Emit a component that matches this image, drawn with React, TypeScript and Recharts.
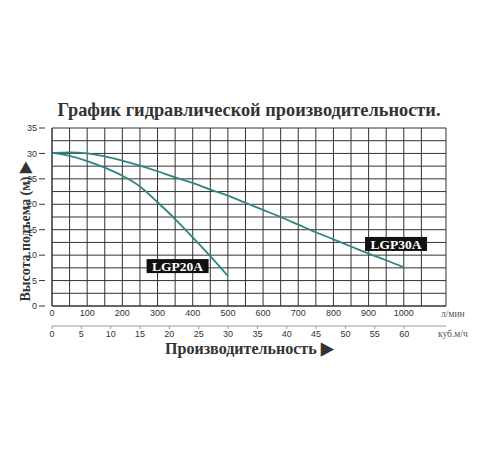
import React from "react";
import {
  LineChart,
  Line,
  XAxis,
  YAxis,
  CartesianGrid,
  ReferenceDot,
} from "recharts";

// LGP20A pump curve (flow in l/min, head in m)
const flow20 = [0, 50, 100, 150, 200, 250, 300, 350, 400, 450, 500];
const head20 = [30.1, 29.5, 28.5, 27.2, 25.6, 23.5, 20.4, 17.1, 13.5, 9.8, 5.9];

// LGP30A pump curve
const flow30 = [
  0, 50, 100, 150, 200, 250, 300, 350, 400, 450, 500, 550, 600, 650, 700, 750,
  800, 850, 900, 950, 1000,
];
const head30 = [
  30.1, 30.2, 30.0, 29.4, 28.6, 27.6, 26.5, 25.3, 24.2, 22.9, 21.7, 20.3, 18.9,
  17.5, 16.0, 14.5, 13.1, 11.7, 10.3, 9.0, 7.6,
];

const flowTicks = [
  0, 50, 100, 150, 200, 250, 300, 350, 400, 450, 500, 550, 600, 650, 700, 750,
  800, 850, 900, 950, 1000, 1050, 1120,
];
const headTicks = [
  0, 2.5, 5, 7.5, 10, 12.5, 15, 17.5, 20, 22.5, 25, 27.5, 30, 32.5, 35,
];
// second scale in m³/h
const cubicTicks = [0, 5, 10, 15, 20, 25, 30, 35, 40, 45, 50, 55, 60];

const pumpLabels = [
  { name: "LGP20A", flow: 357, head: 7.85 },
  { name: "LGP30A", flow: 978, head: 12.2 },
];

const data20 = flow20.map((f, i) => ({ flow: f, head: head20[i] }));
const data30 = flow30.map((f, i) => ({ flow: f, head: head30[i] }));
const cubicRows = cubicTicks.map((c) => ({ m3: c }));

const SERIF = '"Liberation Serif", "Times New Roman", serif';
const SANS = '"Liberation Sans", Arial, sans-serif';
const CURVE = "#2f8584";

const YTick = (props: any) => {
  const { x, y, payload } = props;
  if (payload.value % 5 !== 0) return null;
  return (
    <g>
      <line x1={x - 5} x2={x + 1} y1={y} y2={y} stroke="#333" />
      <text
        x={x - 7}
        y={y}
        dy="0.35em"
        textAnchor="end"
        fontSize={9}
        fontFamily={SANS}
        fill="#333"
      >
        {payload.value}
      </text>
    </g>
  );
};

const PumpTag = (props: any) => {
  const { cx, cy, name } = props;
  return (
    <g>
      <rect x={cx - 31} y={cy - 7} width={62} height={14} fill="#111" />
      <text
        x={cx}
        y={cy}
        dy="0.36em"
        textAnchor="middle"
        fontSize={13.5}
        fontWeight="bold"
        fontFamily={SERIF}
        fill="#fff"
      >
        {name}
      </text>
    </g>
  );
};

export default function App() {
  return (
    <div
      style={{
        position: "absolute",
        left: 0,
        top: 0,
        width: 500,
        height: 450,
        background: "#fff",
      }}
    >
      <LineChart
        width={500}
        height={450}
        margin={{ top: 128, right: 54, bottom: 104, left: 0 }}
      >
        <CartesianGrid
          xAxisId="lpm"
          stroke="#333"
          strokeWidth={1}
          verticalValues={flowTicks}
          horizontalValues={headTicks}
        />
        <XAxis
          xAxisId="lpm"
          type="number"
          dataKey="flow"
          domain={[0, 1120]}
          ticks={flowTicks}
          interval={0}
          height={20}
          axisLine={{ stroke: "#333" }}
          tickLine={false}
          tickSize={0}
          tickMargin={4}
          tick={{ fontSize: 9, fontFamily: SANS, fill: "#333" }}
          tickFormatter={(v: number) =>
            v % 100 === 0 && v <= 1000 ? String(v) : ""
          }
        />
        <XAxis
          xAxisId="m3"
          type="number"
          dataKey="m3"
          domain={[0, 65.6]}
          allowDataOverflow
          ticks={cubicTicks}
          interval={0}
          height={20}
          padding={{ left: 0, right: 9 }}
          axisLine={{ stroke: "#999" }}
          tickLine={{ stroke: "#999" }}
          tickSize={3}
          tickMargin={2}
          tick={{ fontSize: 9, fontFamily: SANS, fill: "#333" }}
        />
        <YAxis
          type="number"
          domain={[0, 35]}
          ticks={headTicks}
          interval={0}
          width={52}
          axisLine={{ stroke: "#333" }}
          tickLine={false}
          tick={<YTick />}
        />
        {/* invisible series so the m³/h axis gets drawn */}
        <Line
          xAxisId="m3"
          data={cubicRows}
          dataKey="head"
          stroke="none"
          dot={false}
          legendType="none"
          isAnimationActive={false}
        />
        <Line
          xAxisId="lpm"
          data={data30}
          dataKey="head"
          type="monotone"
          stroke={CURVE}
          strokeWidth={1.8}
          dot={false}
          isAnimationActive={false}
        />
        <Line
          xAxisId="lpm"
          data={data20}
          dataKey="head"
          type="monotone"
          stroke={CURVE}
          strokeWidth={1.8}
          dot={false}
          isAnimationActive={false}
        />
        {pumpLabels.map((p) => (
          <ReferenceDot
            key={p.name}
            xAxisId="lpm"
            x={p.flow}
            y={p.head}
            r={0}
            shape={(s: any) => <PumpTag {...s} name={p.name} />}
          />
        ))}
      </LineChart>
      <svg
        width={500}
        height={450}
        style={{ position: "absolute", left: 0, top: 0, pointerEvents: "none" }}
      >
        <text
          x={249}
          y={116}
          textAnchor="middle"
          fontSize={19}
          fontWeight="bold"
          fontFamily={SERIF}
          fill="#333"
          textLength={383}
          lengthAdjust="spacingAndGlyphs"
        >
          График гидравлической производительности.
        </text>
        <text
          x={25}
          y={232}
          transform="rotate(-90 25 232)"
          textAnchor="middle"
          dy="0.35em"
          fontSize={15.5}
          fontWeight="bold"
          fontFamily={SERIF}
          fill="#333"
          textLength={139}
          lengthAdjust="spacingAndGlyphs"
        >
          Высота подъема (м) ▶
        </text>
        <text
          x={249}
          y={348}
          dy="0.35em"
          textAnchor="middle"
          fontSize={17}
          fontWeight="bold"
          fontFamily={SERIF}
          fill="#333"
          textLength={168}
          lengthAdjust="spacingAndGlyphs"
        >
          Производительность ▶
        </text>
        <text x={441} y={314} dy="0.35em" fontSize={9.5} fontFamily={SERIF} fill="#555">
          л/мин
        </text>
        <text x={438} y={334} dy="0.35em" fontSize={9.5} fontFamily={SERIF} fill="#555">
          куб.м/ч
        </text>
      </svg>
    </div>
  );
}
